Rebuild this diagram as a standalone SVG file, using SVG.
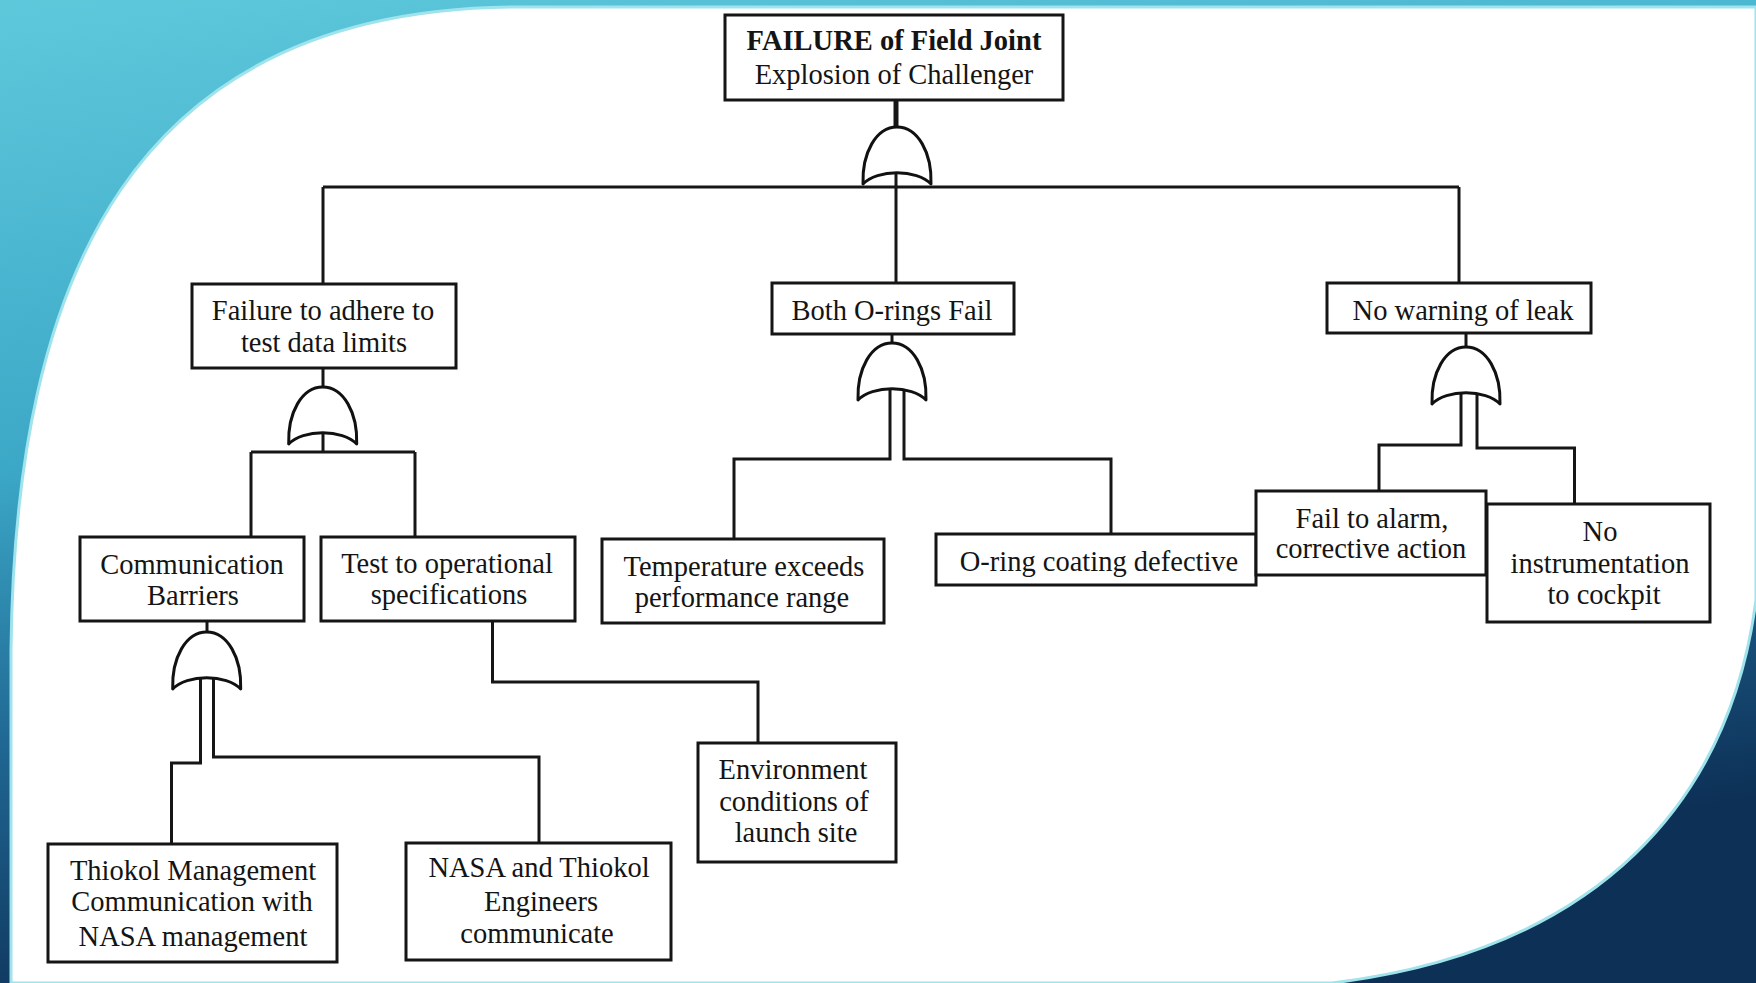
<svg xmlns="http://www.w3.org/2000/svg" xmlns:xlink="http://www.w3.org/1999/xlink" width="1756" height="983" viewBox="0 0 1756 983">
<defs>
<linearGradient id="bg" x1="0" y1="0" x2="0.25" y2="1">
<stop offset="0" stop-color="#5ec8db"/>
<stop offset="0.45" stop-color="#3ca8c7"/>
<stop offset="0.72" stop-color="#1f6692"/>
<stop offset="1" stop-color="#0d3056"/>
</linearGradient>
<path id="orgate" d="M-34,57 C-35,26 -21,0 0,0 C21,0 35,26 34,57 C20,42 -20,42 -34,57 Z"/>
<style>
.box{fill:#fff;stroke:#151515;stroke-width:3}
.gate{fill:#fff;stroke:#111;stroke-width:3;stroke-linejoin:round}
.t{font-family:"Liberation Serif","Times New Roman",serif;font-size:28.5px;fill:#141414;text-anchor:middle}
.b{font-weight:bold}
#connectors path{fill:none;stroke:#161616;stroke-width:3;stroke-linejoin:miter}
</style>
</defs>
<g id="background">
<rect x="0" y="0" width="1756" height="983" fill="url(#bg)"/>
<path d="M11,983 L11,650 C15,280 130,7 520,7 L1756,7 L1756,600 C1730,800 1600,950 1332,983 Z" fill="#fff" stroke="#9fe3ec" stroke-width="3"/>
</g>
<g id="connectors">
<path d="M896,100 V127" style="stroke-width:5"/>
<path d="M896,170 V187 M323,187 H1459 M323,187 V284 M896,187 V283 M1459,187 V283"/>
<path d="M323,368 V387 M323,431 V452 M251,452 H415 M251,452 V537 M415,452 V537"/>
<path d="M207,621 V632 M200.5,676 V763 H171.5 V844 M213.5,676 V757 H539 V843"/>
<path d="M492.5,621 V682 H758 V743"/>
<path d="M892,334 V343 M890,388 V459 H734 V539 M904,388 V459 H1111 V534"/>
<path d="M1466,333 V348 M1461,391 V445 H1379 V491 M1477,391 V448 H1574.5 V504"/>
</g>
<g id="gates">
<use id="gate-top" href="#orgate" xlink:href="#orgate" class="gate" transform="translate(897,127)"/>
<use id="gate-failure" href="#orgate" xlink:href="#orgate" class="gate" transform="translate(322.7,387)"/>
<use id="gate-comm" href="#orgate" xlink:href="#orgate" class="gate" transform="translate(206.7,632)"/>
<use id="gate-orings" href="#orgate" xlink:href="#orgate" class="gate" transform="translate(892,343)"/>
<use id="gate-warning" href="#orgate" xlink:href="#orgate" class="gate" transform="translate(1466,347)"/>
</g>
<g id="node-top">
<rect class="box" x="725" y="15" width="338" height="85"/>
<text class="t b" x="894" y="50">FAILURE of Field Joint</text>
<text class="t" x="894" y="84">Explosion of Challenger</text>
</g>
<g id="node-failure">
<rect class="box" x="192" y="284" width="264" height="84"/>
<text class="t" x="323" y="320">Failure to adhere to</text>
<text class="t" x="324" y="352">test data limits</text>
</g>
<g id="node-orings">
<rect class="box" x="772" y="283" width="242" height="51"/>
<text class="t" x="892" y="320">Both O-rings Fail</text>
</g>
<g id="node-nowarning">
<rect class="box" x="1327" y="283" width="264" height="50"/>
<text class="t" x="1463" y="320">No warning of leak</text>
</g>
<g id="node-comm">
<rect class="box" x="80" y="537" width="224" height="84"/>
<text class="t" x="192" y="574">Communication</text>
<text class="t" x="193" y="605">Barriers</text>
</g>
<g id="node-test">
<rect class="box" x="321" y="537" width="254" height="84"/>
<text class="t" x="447" y="573">Test to operational</text>
<text class="t" x="449" y="604">specifications</text>
</g>
<g id="node-temp">
<rect class="box" x="602" y="539" width="282" height="84"/>
<text class="t" x="744" y="576">Temperature exceeds</text>
<text class="t" x="742" y="607">performance range</text>
</g>
<g id="node-coating">
<rect class="box" x="936" y="534" width="320" height="51"/>
<text class="t" x="1099" y="571">O-ring coating defective</text>
</g>
<g id="node-alarm">
<rect class="box" x="1256" y="491" width="230" height="84"/>
<text class="t" x="1372" y="528">Fail to alarm,</text>
<text class="t" x="1371" y="558">corrective action</text>
</g>
<g id="node-instrumentation">
<rect class="box" x="1487" y="504" width="223" height="118"/>
<text class="t" x="1600" y="541">No</text>
<text class="t" x="1600" y="573">instrumentation</text>
<text class="t" x="1604" y="604">to cockpit</text>
</g>
<g id="node-environment">
<rect class="box" x="698" y="743" width="198" height="119"/>
<text class="t" x="793" y="779">Environment</text>
<text class="t" x="794" y="811">conditions of</text>
<text class="t" x="796" y="842">launch site</text>
</g>
<g id="node-thiokol">
<rect class="box" x="48" y="844" width="289" height="118"/>
<text class="t" x="193" y="880">Thiokol Management</text>
<text class="t" x="192" y="911">Communication with</text>
<text class="t" x="193" y="946">NASA management</text>
</g>
<g id="node-nasa">
<rect class="box" x="406" y="843" width="265" height="117"/>
<text class="t" x="539" y="877">NASA and Thiokol</text>
<text class="t" x="541" y="911">Engineers</text>
<text class="t" x="537" y="943">communicate</text>
</g>
</svg>
